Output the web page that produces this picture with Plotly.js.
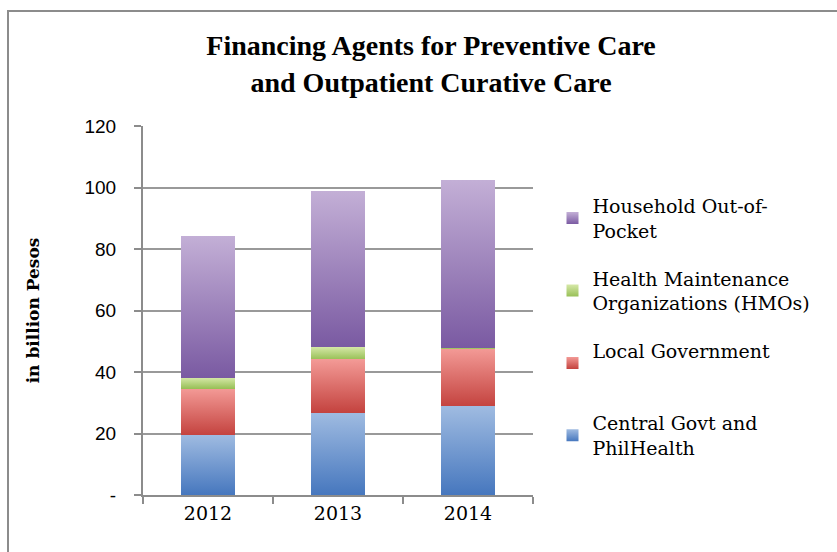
<!DOCTYPE html>
<html>
<head>
<meta charset="utf-8">
<script src="https://cdn.plot.ly/plotly-3.0.1.min.js"></script>
<style>
  html, body { margin: 0; padding: 0; overflow: hidden; background: #fff; }
  #chart { position: absolute; left: 0; top: 0; width: 837px; height: 552px; }
  #frame { position: absolute; left: 7px; top: 10px; width: 900px; height: 600px;
           border: 2px solid #8c8c8c; pointer-events: none; }
</style>
</head>
<body>
<div id="chart"></div>
<div id="frame"></div>
<script>
const years = ['2012', '2013', '2014'];
const central = [19.5, 26.8, 28.8];
const local = [15.1, 17.3, 18.8];
const hmo = [3.6, 4.1, 0.3];
const household = [46.0, 50.6, 54.5];

const names = ['Central Govt and<br>PhilHealth', 'Local Government<br> ', 'Health Maintenance<br>Organizations (HMOs)', 'Household Out-of-<br>Pocket'];
const values = [central, local, hmo, household];
const y_ticks = [0, 20, 40, 60, 80, 100, 120];
const y_ticktext = ['-', '20', '40', '60', '80', '100', '120'];

// solid base colour, then gradient top / bottom
const colors = [
    ['rgb(110, 150, 210)', '#9fbbe1', '#4677be'],
    ['rgb(220, 110, 105)', '#f39a96', '#c4433f'],
    ['rgb(180, 210, 125)', '#d6e8a8', '#98c057'],
    ['rgb(160, 135, 190)', '#c3afd6', '#7a5aa2'],
];

const data = values.map((v, i) => ({
    x: years, y: v, type: 'bar', name: names[i],
    legendgroup: 'g' + i, legendrank: 4 - i,
    marker: {color: colors[i][0], line: {width: 0}},
    hoverinfo: 'skip',
}));

const serif = '"DejaVu Serif", serif';
const layout = {
    width: 837, height: 552,
    margin: {l: 143, r: 304, t: 126, b: 57},
    barmode: 'stack', bargap: 0.59,
    paper_bgcolor: '#fff', plot_bgcolor: '#fff',
    font: {family: serif, color: '#000', size: 18},
    title: {
        text: '<b>Financing Agents for Preventive Care<br>and Outpatient Curative Care</b>',
        font: {family: '"Liberation Serif", serif', size: 28, color: '#000'},
        x: 0.515, xanchor: 'center', y: 0.9, yanchor: 'top',
    },
    xaxis: {
        type: 'category', showgrid: false, showline: true, linecolor: '#8c8c8c', linewidth: 2,
        ticks: 'outside', tickson: 'boundaries', ticklen: 7, tickcolor: '#8c8c8c', tickwidth: 2,
        tickfont: {family: serif, size: 19}, fixedrange: true,
    },
    yaxis: {
        range: [0, 120], tickvals: y_ticks, ticktext: y_ticktext,
        showgrid: true, gridcolor: '#999', gridwidth: 2,
        showline: true, linecolor: '#8c8c8c', linewidth: 2, zeroline: false,
        ticks: 'outside', ticklen: 7, tickcolor: '#8c8c8c', tickwidth: 2,
        ticklabelstandoff: 14,
        tickfont: {family: '"Liberation Sans Narrow", "Liberation Sans", sans-serif', size: 19},
        title: {text: '<b>in billion Pesos</b>', font: {family: serif, size: 17}, standoff: 41},
        fixedrange: true,
    },
    legend: {
        x: 1.05, xanchor: 'left', y: 0.835, yanchor: 'top',
        traceorder: 'grouped', tracegroupgap: 20,
        font: {family: serif, size: 19},
        itemclick: false, itemdoubleclick: false,
    },
    showlegend: true,
};

function add_gradients(gd) {
    const svg = gd.querySelector('svg.main-svg');
    const ns = 'http://www.w3.org/2000/svg';
    let defs = svg.querySelector('defs');
    colors.forEach(([base, top, bottom], i) => {
        const grad = document.createElementNS(ns, 'linearGradient');
        grad.setAttribute('id', 'bargrad' + i);
        grad.setAttribute('x1', '0'); grad.setAttribute('y1', '0');
        grad.setAttribute('x2', '0'); grad.setAttribute('y2', '1');
        [[0, top], [1, bottom]].forEach(([off, c]) => {
            const stop = document.createElementNS(ns, 'stop');
            stop.setAttribute('offset', off);
            stop.setAttribute('stop-color', c);
            grad.appendChild(stop);
        });
        defs.appendChild(grad);
    });
    gd.querySelectorAll('path').forEach(p => {
        const f = p.style.fill.replace(/\s/g, '');
        colors.forEach(([base], i) => {
            if (f === base.replace(/\s/g, '')) p.style.fill = 'url(#bargrad' + i + ')';
        });
    });
}

Plotly.newPlot('chart', data, layout, {displayModeBar: false, staticPlot: true})
    .then(add_gradients);
</script>
</body>
</html>
